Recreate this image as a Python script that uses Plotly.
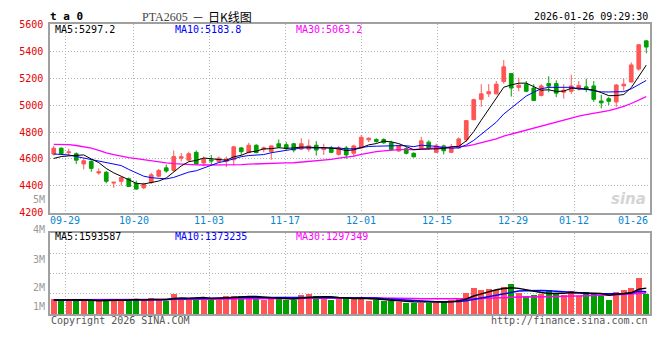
import plotly.graph_objects as go

# ---------------- data ----------------
dates = ["09-25", "09-26", "09-29", "09-30", "10-09", "10-10", "10-13", "10-14", "10-15", "10-16",
         "10-17", "10-20", "10-21", "10-22", "10-23", "10-24", "10-27", "10-28", "10-29", "10-30",
         "10-31", "11-03", "11-04", "11-05", "11-06", "11-07", "11-10", "11-11", "11-12", "11-13",
         "11-14", "11-17", "11-18", "11-19", "11-20", "11-21", "11-24", "11-25", "11-26", "11-27",
         "11-28", "12-01", "12-02", "12-03", "12-04", "12-05", "12-08", "12-09", "12-10", "12-11",
         "12-12", "12-15", "12-16", "12-17", "12-18", "12-19", "12-22", "12-23", "12-24", "12-25",
         "12-26", "12-29", "12-30", "12-31", "01-05", "01-06", "01-07", "01-08", "01-09", "01-12",
         "01-13", "01-14", "01-15", "01-16", "01-19", "01-20", "01-21", "01-22", "01-23", "01-26"]

opens = [4636, 4680, 4647, 4639, 4563, 4582, 4496, 4501, 4421, 4434,
         4453, 4419, 4386, 4424, 4472, 4534, 4515, 4606, 4591, 4649,
         4570, 4593, 4582, 4582, 4594, 4682, 4647, 4702, 4673, 4654,
         4713, 4706, 4713, 4673, 4673, 4702, 4670, 4682, 4634, 4682,
         4642, 4682, 4742, 4745, 4745, 4720, 4659, 4677, 4642, 4680,
         4725, 4649, 4697, 4649, 4682, 4742, 4892, 5043, 5084, 5084,
         5175, 5235, 5132, 5156, 5127, 5072, 5160, 5160, 5096, 5103,
         5127, 5136, 5143, 5031, 5048, 5024, 5143, 5172, 5268, 5478]
highs = [4697, 4686, 4677, 4649, 4601, 4591, 4530, 4510, 4428, 4472,
         4462, 4439, 4424, 4496, 4525, 4558, 4663, 4644, 4654, 4663,
         4618, 4630, 4618, 4618, 4697, 4690, 4720, 4709, 4692, 4699,
         4745, 4725, 4720, 4754, 4745, 4733, 4713, 4697, 4697, 4697,
         4706, 4778, 4761, 4754, 4754, 4735, 4706, 4690, 4649, 4765,
         4738, 4713, 4706, 4711, 4761, 4887, 5048, 5156, 5156, 5179,
         5335, 5239, 5204, 5179, 5156, 5156, 5215, 5184, 5156, 5227,
         5179, 5196, 5179, 5077, 5060, 5156, 5196, 5318, 5454, 5480]
lows = [4625, 4636, 4625, 4563, 4523, 4505, 4482, 4419, 4386, 4403,
        4391, 4372, 4376, 4415, 4467, 4498, 4505, 4582, 4582, 4558,
        4546, 4558, 4570, 4539, 4553, 4630, 4642, 4642, 4649, 4594,
        4682, 4665, 4649, 4666, 4654, 4625, 4630, 4645, 4625, 4601,
        4618, 4677, 4725, 4720, 4713, 4666, 4654, 4634, 4611, 4670,
        4668, 4645, 4634, 4642, 4677, 4725, 4888, 4988, 5060, 5079,
        5160, 5064, 5103, 5096, 5030, 5064, 5096, 5060, 5048, 5084,
        5108, 5096, 5024, 4976, 5000, 4988, 5107, 5168, 5256, 5385]
closes = [4680, 4640, 4652, 4591, 4587, 4530, 4505, 4434, 4427, 4462,
          4396, 4376, 4410, 4482, 4515, 4510, 4618, 4616, 4639, 4563,
          4599, 4586, 4606, 4599, 4690, 4654, 4702, 4647, 4682, 4697,
          4690, 4677, 4666, 4713, 4697, 4666, 4682, 4649, 4682, 4630,
          4697, 4761, 4754, 4730, 4720, 4670, 4697, 4642, 4616, 4735,
          4677, 4697, 4661, 4682, 4749, 4885, 5041, 5084, 5100, 5156,
          5285, 5127, 5148, 5103, 5035, 5143, 5141, 5089, 5112, 5143,
          5146, 5117, 5043, 5017, 5029, 5150, 5156, 5299, 5449, 5432]
volumes = [956000, 956000, 854000, 854000, 795000, 795000, 795000, 956000, 854000, 854000,
           878000, 956000, 795000, 998000, 854000, 836000, 1254000, 998000, 914000, 998000,
           914000, 956000, 998000, 1117000, 1117000, 1117000, 1075000, 956000, 854000, 998000,
           1057000, 854000, 854000, 1153000, 1254000, 1117000, 914000, 880000, 914000, 1057000,
           998000, 998000, 806000, 854000, 795000, 795000, 735000, 717000, 717000, 717000,
           717000, 699000, 818000, 854000, 956000, 1288000, 1628000, 1475000, 1572000, 1515000,
           1663000, 1855000, 1288000, 1095000, 1152000, 1248000, 1515000, 1248000, 1191000, 1435000,
           1134000, 1357000, 1245000, 1134000, 893000, 1394000, 1493000, 1597000, 2255000, 1229000]

# moving-average values before enough in-window history exists
ma5_head = [4604, 4618, 4623, 4626]
ma10_head = [4637, 4634, 4630, 4618, 4606, 4594, 4582, 4572, 4560]
ma30_head = [4709, 4709, 4706, 4700, 4692, 4680, 4664, 4645, 4632, 4620,
             4610, 4603, 4594, 4585, 4578, 4571, 4566, 4561, 4558, 4556,
             4555, 4555, 4555, 4556, 4556, 4558, 4561, 4564, 4567]
vma5_head = [860000, 870000, 880000, 880000]
vma10_head = [850000, 850000, 860000, 860000, 860000, 860000, 860000, 870000, 870000]
vma30_head = [870000] * 10 + [880000, 880000, 885000, 890000, 890000, 895000, 900000, 900000, 905000, 910000,
                              910000, 915000, 915000, 920000, 920000, 925000, 930000, 930000, 935000]

tick_dates = ["09-29", "10-20", "11-03", "11-17", "12-01", "12-15", "12-29", "01-12", "01-26"]
price_ticks = [4200, 4400, 4600, 4800, 5000, 5200, 5400, 5600]
vol_labels = ["5M", "4M", "3M", "2M", "1M"]

title_code = "PTA2605"
title_dash = "－"
title_rest = "日K线图"
symbol_text = "t a 0"
timestamp = "2026-01-26 09:29:30"
price_ma_text = ["MA5:5297.2", "MA10:5183.8", "MA30:5063.2"]
vol_ma_text = ["MA5:1593587", "MA10:1373235", "MA30:1297349"]

# ---------------- helpers ----------------
def rolling(vals, n, head):
    out = list(head)
    for i in range(n - 1, len(vals)):
        out.append(sum(vals[i - n + 1:i + 1]) / n)
    return out

N = len(dates)
idx = list(range(N))
ma5 = rolling(closes, 5, ma5_head)
ma10 = rolling(closes, 10, ma10_head)
ma30 = rolling(closes, 30, ma30_head)
vma5 = rolling(volumes, 5, vma5_head)
vma10 = rolling(volumes, 10, vma10_head)
vma30 = rolling(volumes, 30, vma30_head)

RED = "#ff5555"
GREEN = "#009f00"
BLUE = "#0000ff"
MAG = "#ff00ff"
GRID = "#b4b4b4"
AXIS = "#a0a0a0"
MONO = "DejaVu Sans Mono"

W, H = 660, 360
ML, MR = 50, 10
PW = W - ML - MR

def px_x(x):
    return (x - ML) / PW

def px_y(y):
    return 1 - y / H

# sina grid positions: spread over the full width with N-1 intervals
tick_idx = [dates.index(d) for d in tick_dates]
grid_x = [i * N / (N - 1) - 0.5 for i in tick_idx]

vol_colors = [RED if c >= o else GREEN for o, c in zip(opens, closes)]

fig = go.Figure()
fig.add_trace(go.Candlestick(
    x=idx, open=opens, high=highs, low=lows, close=closes,
    increasing=dict(line=dict(color=RED, width=1), fillcolor=RED),
    decreasing=dict(line=dict(color=GREEN, width=1), fillcolor=GREEN),
    whiskerwidth=0, showlegend=False, hoverinfo="skip", xaxis="x", yaxis="y"))
for vals, col, w in [(ma30, MAG, 1.3), (ma10, BLUE, 1), (ma5, "#000000", 1)]:
    fig.add_trace(go.Scatter(x=idx, y=vals, mode="lines", line=dict(color=col, width=w),
                             showlegend=False, hoverinfo="skip", xaxis="x", yaxis="y"))

fig.add_trace(go.Bar(x=idx, y=volumes, width=0.8, marker=dict(color=vol_colors, line=dict(width=0)),
                     showlegend=False, hoverinfo="skip", xaxis="x2", yaxis="y2"))
for vals, col in [(vma30, MAG), (vma10, BLUE), (vma5, "#000000")]:
    fig.add_trace(go.Scatter(x=idx, y=vals, mode="lines", line=dict(color=col, width=1.5),
                             showlegend=False, hoverinfo="skip", xaxis="x2", yaxis="y2"))

xcommon = dict(range=[-0.5, N - 0.5], tickvals=grid_x, showticklabels=False, ticks="",
               showgrid=True, gridcolor=GRID, griddash="1px,2px", gridwidth=1,
               showline=True, linecolor=AXIS, linewidth=2, mirror=True, zeroline=False,
               fixedrange=True)

def note(x, y, text, size=10, color="#000000", family=MONO, xanchor="left", xref="paper"):
    return dict(x=x, xref=xref, y=px_y(y), yref="paper", text=text, showarrow=False,
                xanchor=xanchor, yanchor="middle", font=dict(family=family, size=size, color=color))

annotations = []
# x labels
for d, gx in zip(tick_dates, grid_x):
    last = d == tick_dates[-1]
    annotations.append(note(gx, 221, d, color="#0a84d0", xanchor="right" if last else "center", xref="x"))
# volume axis labels
for lab, yy in zip(vol_labels, [200, 230.7, 261, 290, 310]):
    annotations.append(note(px_x(47), yy, lab, color="#9a9a9a", xanchor="right"))
# MA legends
for txt, col, xx in zip(price_ma_text, ["#000000", BLUE, MAG], [53, 173, 294]):
    annotations.append(note(px_x(xx), 24, txt, color=col))
for txt, col, xx in zip(vol_ma_text, ["#000000", BLUE, MAG], [53, 173, 294]):
    annotations.append(note(px_x(xx), 238, txt, color=col))
# header
annotations.append(note(px_x(48), 11, "<b>" + symbol_text + "</b>", size=11))
annotations.append(note(px_x(140), 11, title_code, size=12, color="#444444", family="Liberation Serif"))
annotations.append(note(px_x(198), 11, title_dash, size=12, color="#111111", family="Noto Sans CJK SC",
                        xanchor="center"))
annotations.append(note(px_x(206), 11, title_rest, size=12, color="#000000", family="Noto Sans CJK SC"))
annotations.append(note(px_x(650), 11, timestamp, xanchor="right"))
# footer
annotations.append(note(px_x(49), 324, "Copyright 2026 SINA.COM", color="#555555"))
annotations.append(note(px_x(650), 324, "http://finance.sina.com.cn", color="#555555", xanchor="right"))
# watermark
annotations.append(note(px_x(648), 199, "<b><i>sina</i></b>", size=15, color="#d4d4d4",
                        family="DejaVu Sans", xanchor="right"))

fig.update_layout(
    width=W, height=H, autosize=False,
    margin=dict(l=ML, r=MR, t=0, b=0, pad=0),
    paper_bgcolor="white", plot_bgcolor="white",
    boxgap=0.3, bargap=0,
    showlegend=False,
    xaxis=dict(anchor="y", domain=[0, 1], rangeslider=dict(visible=False), **xcommon),
    xaxis2=dict(anchor="y2", domain=[0, 1], matches="x", **xcommon),
    yaxis=dict(domain=[px_y(213.3), px_y(19)], range=[4200, 5600], tickvals=price_ticks,
               ticktext=[str(v) for v in price_ticks], ticks="", ticklabelstandoff=3,
               tickfont=dict(family=MONO, size=10, color="#e60000"),
               showgrid=True, gridcolor=GRID, griddash="1px,2px", gridwidth=1,
               showline=True, linecolor=AXIS, linewidth=1.5, mirror=True, zeroline=False,
               fixedrange=True),
    yaxis2=dict(domain=[px_y(317.7), px_y(234)], range=[0, 5000000],
                tickvals=[1250000, 2500000, 3750000], showticklabels=False, ticks="",
                showgrid=True, gridcolor=GRID, griddash="1px,2px", gridwidth=1,
                showline=True, linecolor=AXIS, linewidth=1.5, mirror=True, zeroline=False,
                fixedrange=True),
    annotations=annotations,
)

fig.write_html("out.html", config={"displayModeBar": False},
               post_script="document.body.style.margin='0';document.body.style.padding='0';")
